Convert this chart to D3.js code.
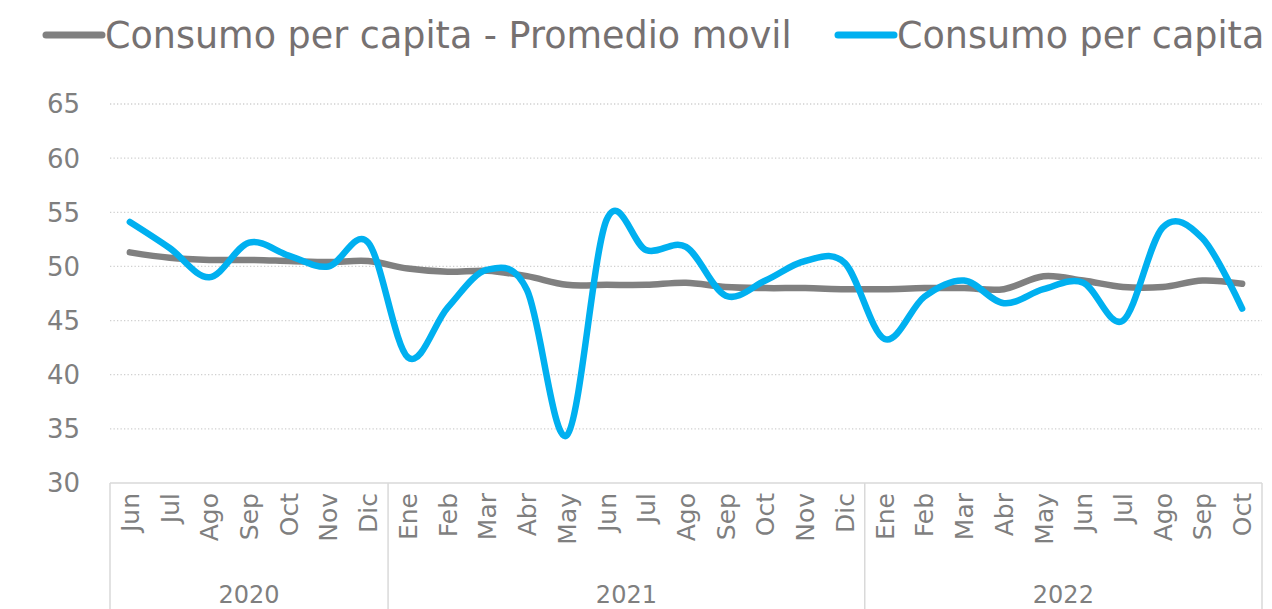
<!DOCTYPE html>
<html>
<head>
<meta charset="utf-8">
<script src="https://cdn.jsdelivr.net/npm/d3@7"></script>
<style>
  body { margin: 0; background: #fff; }
  svg { display: block; font-family: "Century Gothic", "DejaVu Sans", sans-serif; }
</style>
</head>
<body>
<svg id="chart" width="1272" height="609"></svg>
<script>
const months = ["Jun","Jul","Ago","Sep","Oct","Nov","Dic",
  "Ene","Feb","Mar","Abr","May","Jun","Jul","Ago","Sep","Oct","Nov","Dic",
  "Ene","Feb","Mar","Abr","May","Jun","Jul","Ago","Sep","Oct"];
const years = [
  { label: "2020", count: 7 },
  { label: "2021", count: 12 },
  { label: "2022", count: 10 }
];
const consumo = [54.1, 51.7, 49.0, 52.2, 51.0, 50.0, 52.2,
  41.6, 46.2, 49.7, 47.8, 34.4, 54.3, 51.5, 51.8, 47.3, 48.7, 50.5, 50.3,
  43.3, 47.2, 48.7, 46.6, 47.9, 48.5, 45.0, 53.6, 52.6, 46.1];
const promedio = [51.3, 50.8, 50.6, 50.6, 50.5, 50.4, 50.5,
  49.8, 49.5, 49.6, 49.1, 48.3, 48.3, 48.3, 48.5, 48.1, 48.0, 48.0, 47.9,
  47.9, 48.0, 48.0, 47.9, 49.1, 48.7, 48.1, 48.1, 48.7, 48.4];
const yTicks = [30, 35, 40, 45, 50, 55, 60, 65];
const seriesNames = ["Consumo per capita - Promedio movil", "Consumo per capita"];

const svg = d3.select("#chart");
const plotLeft = 110, plotRight = 1262, plotTop = 104, plotBottom = 483;
const textColor = "#7f7f7f";

const x = d3.scaleBand().domain(d3.range(months.length)).range([plotLeft, plotRight]);
const y = d3.scaleLinear().domain([30, 65]).range([plotBottom, plotTop]);

// gridlines
svg.append("g")
  .selectAll("line")
  .data(yTicks.filter(d => d > 30))
  .join("line")
  .attr("x1", plotLeft).attr("x2", plotRight)
  .attr("y1", d => y(d)).attr("y2", d => y(d))
  .attr("stroke", "#d0d0d0")
  .attr("stroke-width", 1.3)
  .attr("stroke-dasharray", "1.3 2.2");

// y axis labels
svg.append("g")
  .selectAll("text")
  .data(yTicks)
  .join("text")
  .attr("x", 80)
  .attr("y", d => y(d))
  .attr("dy", "0.36em")
  .attr("text-anchor", "end")
  .attr("font-size", 26)
  .attr("fill", textColor)
  .text(d => d);

// category axis box
const axis = svg.append("g");
axis.append("line")
  .attr("x1", plotLeft).attr("x2", plotRight)
  .attr("y1", plotBottom).attr("y2", plotBottom)
  .attr("stroke", "#d9d9d9").attr("stroke-width", 1.5);

let start = 0;
const yearPos = years.map(yr => {
  const p = { label: yr.label, x0: x(start), x1: x(start + yr.count - 1) + x.bandwidth() };
  start += yr.count;
  return p;
});
const dividers = [plotLeft].concat(yearPos.map(p => p.x1));
axis.selectAll("line.div")
  .data(dividers)
  .join("line")
  .attr("class", "div")
  .attr("x1", d => d).attr("x2", d => d)
  .attr("y1", plotBottom).attr("y2", 609)
  .attr("stroke", "#d9d9d9").attr("stroke-width", 1.5);

axis.selectAll("text.month")
  .data(months)
  .join("text")
  .attr("class", "month")
  .attr("transform", (d, i) => `translate(${x(i) + x.bandwidth() / 2 + 9},493) rotate(-90)`)
  .attr("text-anchor", "end")
  .attr("font-size", 25)
  .attr("fill", textColor)
  .text(d => d);

axis.selectAll("text.year")
  .data(yearPos)
  .join("text")
  .attr("class", "year")
  .attr("x", d => (d.x0 + d.x1) / 2)
  .attr("y", 603)
  .attr("text-anchor", "middle")
  .attr("font-size", 24)
  .attr("fill", textColor)
  .text(d => d.label);

// lines
const line = d3.line()
  .x((d, i) => x(i) + x.bandwidth() / 2)
  .y(d => y(d))
  .curve(d3.curveCardinal.tension(0));

svg.append("path")
  .datum(promedio)
  .attr("d", line)
  .attr("fill", "none")
  .attr("stroke", "#808080")
  .attr("stroke-width", 6.5)
  .attr("stroke-linecap", "round")
  .attr("stroke-linejoin", "round");

svg.append("path")
  .datum(consumo)
  .attr("d", line)
  .attr("fill", "none")
  .attr("stroke", "#00b0f0")
  .attr("stroke-width", 6.5)
  .attr("stroke-linecap", "round")
  .attr("stroke-linejoin", "round");

// legend
const legendItems = [
  { name: seriesNames[0], color: "#808080", x: 46 },
  { name: seriesNames[1], color: "#00b0f0", x: 838 }
];
const lg = svg.append("g").selectAll("g")
  .data(legendItems)
  .join("g")
  .attr("transform", d => `translate(${d.x},35)`);
lg.append("line")
  .attr("x1", 0).attr("x2", 56)
  .attr("stroke", d => d.color)
  .attr("stroke-width", 7)
  .attr("stroke-linecap", "round");
lg.append("text")
  .attr("x", 59)
  .attr("dy", "0.36em")
  .attr("font-size", 36.5)
  .attr("fill", "#767171")
  .text(d => d.name);
</script>
</body>
</html>
